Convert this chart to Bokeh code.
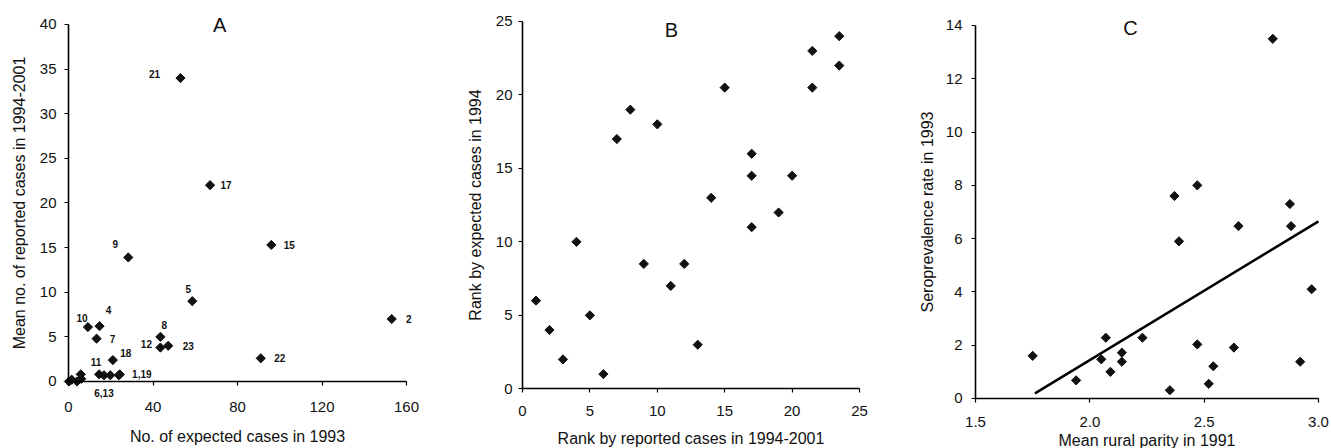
from bokeh.plotting import figure
from bokeh.layouts import row
from bokeh.models import ColumnDataSource, FixedTicker, Label, NumeralTickFormatter, Range1d
from bokeh.core.properties import value
from bokeh.embed import file_html
from bokeh.resources import INLINE
import math

# ---------------- Panel A data ----------------
a_district = ["21", "17", "9", "15", "5", "2", "10", "4", "7", "8", "12", "23",
              "18", "22", "11", "6,13", "", "1,19", "", "", "", "", "", ""]
a_expected_1993 = [53, 67, 28.3, 96, 58.6, 153, 9.2, 14.7, 13.3, 43.5, 43.5, 47.2,
                   21.0, 91, 14.5, 16.8, 19.8, 24.3, 23.8, 0.2, 1.5, 4.0, 5.8, 6.0]
a_reported_mean = [34, 22, 13.9, 15.3, 9.0, 7.0, 6.1, 6.2, 4.8, 5.0, 3.8, 4.0,
                   2.4, 2.6, 0.8, 0.7, 0.7, 0.8, 0.7, 0.0, 0.2, 0.0, 0.8, 0.3]
a_xticks = [0, 40, 80, 120, 160]
a_yticks = [0, 5, 10, 15, 20, 25, 30, 35, 40]

# ---------------- Panel B data ----------------
b_rank_reported = [7, 8, 10, 15, 21.5, 23.5, 23.5, 21.5, 17, 17, 20, 14, 19, 17,
                   4, 9, 12, 11, 1, 5, 2, 3, 6, 13]
b_rank_expected = [17, 19, 18, 20.5, 23, 24, 22, 20.5, 16, 14.5, 14.5, 13, 12, 11,
                   10, 8.5, 8.5, 7, 6, 5, 4, 2, 1, 3]
b_ticks = [0, 5, 10, 15, 20, 25]

# ---------------- Panel C data ----------------
c_parity_1991 = [2.80, 2.37, 2.47, 2.875, 2.65, 2.88, 2.39, 2.97, 1.75, 1.94, 2.05,
                 2.07, 2.09, 2.14, 2.14, 2.23, 2.35, 2.47, 2.52, 2.54, 2.63, 2.92]
c_seroprev_1993 = [13.5, 7.6, 8.0, 7.3, 6.47, 6.47, 5.9, 4.1, 1.6, 0.68, 1.47,
                   2.28, 1.0, 1.72, 1.38, 2.28, 0.31, 2.03, 0.55, 1.21, 1.91, 1.38]
c_fit_x = [1.76, 3.0]
c_fit_y = [0.19, 6.65]
c_xticks = [1.5, 2.0, 2.5, 3.0]
c_yticks = [0, 2, 4, 6, 8, 10, 12, 14]

# ---------------- styles ----------------
FONT = "Liberation Sans"
TXT = "#111111"
LABEL_OFFSETS = {  # pixel offsets of the district labels in panel A
    "21": (-26, -4), "17": (16, 0), "9": (-13, -13), "15": (18, 0), "5": (-4, -12),
    "2": (17, 0), "10": (-6, -9), "4": (9, -16), "7": (16, 0), "8": (4, -12),
    "12": (-14, -4), "23": (20, 0), "18": (13, -7), "22": (19, 0), "11": (-3, -12),
    "6,13": (0, 18), "1,19": (22, 0),
}


def make_fig(width, xr, yr, xb, yb, xticks, yticks, xlabel, ylabel,
             xstand, xlstand, ystand, ylstand):
    # the frame fills the whole canvas; axes are pinned at the data origin
    p = figure(width=width, height=448, x_range=Range1d(*xr), y_range=Range1d(*yr),
               output_backend="svg", toolbar_location=None,
               min_border_left=0, min_border_right=0,
               min_border_top=0, min_border_bottom=0)
    p.grid.visible = False
    p.outline_line_color = None
    p.background_fill_color = "white"
    p.border_fill_color = "white"
    p.xaxis.ticker = FixedTicker(ticks=xticks)
    p.yaxis.ticker = FixedTicker(ticks=yticks)
    p.xaxis.axis_label = xlabel
    p.yaxis.axis_label = ylabel
    p.xaxis.bounds = xb
    p.yaxis.bounds = yb
    p.xaxis.fixed_location = yb[0]
    p.yaxis.fixed_location = xb[0]
    for ax in p.axis:
        ax.axis_line_color = "black"
        ax.axis_line_width = 1.6
        ax.major_tick_line_color = "black"
        ax.major_tick_line_width = 1.2
        ax.major_tick_in = 0
        ax.major_tick_out = 4
        ax.minor_tick_line_color = None
        ax.major_label_text_font = FONT
        ax.major_label_text_font_size = "15px"
        ax.major_label_text_color = TXT
        ax.axis_label_text_font = FONT
        ax.axis_label_text_font_size = "16px"
        ax.axis_label_text_font_style = "normal"
        ax.axis_label_text_color = TXT
    p.xaxis.major_label_standoff = xstand
    p.xaxis.axis_label_standoff = xlstand
    p.yaxis.major_label_standoff = ystand
    p.yaxis.axis_label_standoff = ylstand
    return p


def add_title(p, x, y, t):
    p.add_layout(Label(x=x, y=y, text=t, text_align="center", text_baseline="middle",
                       text_font=FONT, text_font_size="20px", text_color=TXT))


MARK = dict(marker="square", size=6.5, angle=math.pi / 4, fill_color="#111111",
            line_color="#111111", line_width=1)

# ---------------- Panel A ----------------
pa = make_fig(440, (-32.19, 176.09), (-7.507, 42.689), (0, 160), (0, 40),
              a_xticks, a_yticks,
              "No. of expected cases in 1993", "Mean no. of reported cases in 1994-2001",
              17, 12, 8, 9)
src_a = ColumnDataSource(dict(x=a_expected_1993, y=a_reported_mean))
pa.scatter("x", "y", source=src_a, **MARK)
lab = [(d, x, y) for d, x, y in zip(a_district, a_expected_1993, a_reported_mean) if d]
src_al = ColumnDataSource(dict(
    x=[t[1] for t in lab], y=[t[2] for t in lab], text=[t[0] for t in lab],
    dx=[LABEL_OFFSETS[t[0]][0] for t in lab], dy=[LABEL_OFFSETS[t[0]][1] for t in lab]))
pa.text("x", "y", text="text", x_offset="dx", y_offset="dy", source=src_al,
        text_align="center", text_baseline="middle", text_font=value(FONT),
        text_font_size="10px", text_font_style="bold", text_color=TXT)
add_title(pa, 71.5, 39.9, "A")

# ---------------- Panel B ----------------
pb = make_fig(440, (-6.083, 26.558), (-4.063, 26.429), (0, 25), (0, 25),
              b_ticks, b_ticks,
              "Rank by reported cases in 1994-2001", "Rank by expected cases in 1994",
              13, 11, 6, 9)
pb.scatter(b_rank_reported, b_rank_expected, **MARK)
add_title(pb, 11.05, 24.39, "B")

# ---------------- Panel C ----------------
pc = make_fig(451, (1.0845, 3.0569), (-1.877, 14.938), (1.5, 3.0), (0, 14),
              c_xticks, c_yticks,
              "Mean rural parity in 1991", "Seroprevalence rate in 1993",
              15, 1, 9, 7)
pc.xaxis.formatter = NumeralTickFormatter(format="0.0")
pc.line(c_fit_x, c_fit_y, line_color="black", line_width=2.5)
pc.scatter(c_parity_1991, c_seroprev_1993, **MARK)
add_title(pc, 2.178, 13.89, "C")

layout = row(pa, pb, pc, spacing=0)
open("out.html", "w").write(file_html(layout, INLINE))
